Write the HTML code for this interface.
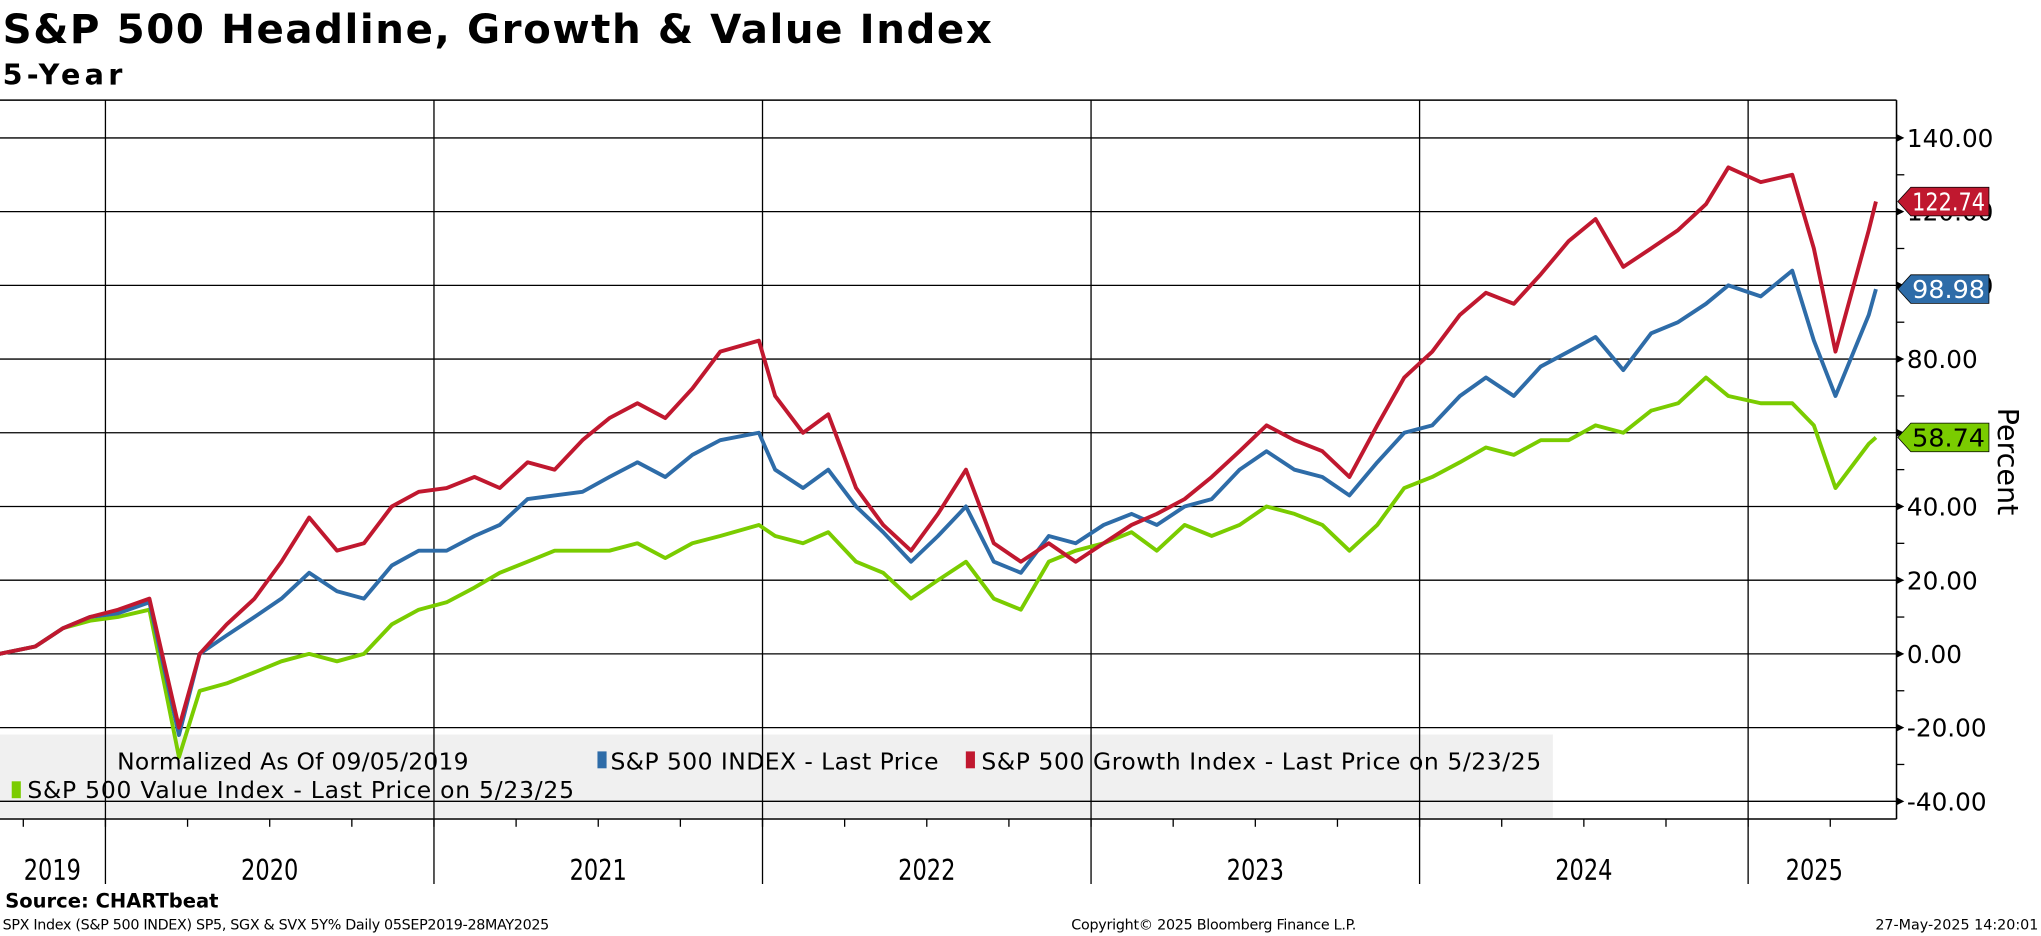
<!DOCTYPE html>
<html><head><meta charset="utf-8"><style>
html,body{margin:0;padding:0;background:#fff;}
svg{display:block;font-family:"DejaVu Sans","Liberation Sans",sans-serif;}
</style></head><body>
<svg id="chart" width="2041" height="936" viewBox="0 0 1568 720" preserveAspectRatio="none">
<text x="2" y="33" font-size="31" font-weight="bold" textLength="760">S&amp;P 500 Headline, Growth &amp; Value Index</text>
<text x="2" y="65" font-size="22" font-weight="bold" textLength="92">5-Year</text>
<rect x="0" y="565" width="1193" height="64" fill="#f0f0f0"/>
<g id="grid"></g>
<g id="series"></g>
<g id="axes"></g>
<text x="90" y="592" font-size="18" textLength="270">Normalized As Of 09/05/2019</text>
<rect x="459" y="578" width="7" height="13" fill="#2e6ca8"/>
<text x="469" y="592" font-size="18" textLength="252">S&amp;P 500 INDEX - Last Price</text>
<rect x="742" y="578" width="7" height="13" fill="#c0182f"/>
<text x="754" y="592" font-size="18" textLength="430">S&amp;P 500 Growth Index - Last Price on 5/23/25</text>
<rect x="9" y="601" width="7" height="13" fill="#7acc00"/>
<text x="21" y="614" font-size="18" textLength="420">S&amp;P 500 Value Index - Last Price on 5/23/25</text>
<text x="1535" y="355" font-size="22" transform="rotate(90 1535 355)" text-anchor="middle">Percent</text>
<text x="4" y="698" font-size="15" font-weight="bold">Source: CHARTbeat</text>
<text x="2" y="715" font-size="11" textLength="420">SPX Index (S&amp;P 500 INDEX) SP5, SGX &amp; SVX 5Y%  Daily 05SEP2019-28MAY2025</text>
<text x="823" y="715" font-size="11" textLength="219">Copyright© 2025 Bloomberg Finance L.P.</text>
<text x="1566" y="715" font-size="11" text-anchor="end">27-May-2025 14:20:01</text>
</svg>
<script>
const yTicks=[140,120,100,80,60,40,20,0,-20,-40];
const yearLabels=["2019","2020","2021","2022","2023","2024","2025"];
const yearBoundaries=[2020,2021,2022,2023,2024,2025];
const months=["2019-09-05","2019-10-15","2019-11-15","2019-12-15",
"2020-01-15","2020-02-19","2020-03-23","2020-04-15","2020-05-15","2020-06-15","2020-07-15","2020-08-15","2020-09-15","2020-10-15","2020-11-15","2020-12-15",
"2021-01-15","2021-02-15","2021-03-15","2021-04-15","2021-05-15","2021-06-15","2021-07-15","2021-08-15","2021-09-15","2021-10-15","2021-11-15","2021-12-28",
"2022-01-15","2022-02-15","2022-03-15","2022-04-15","2022-05-15","2022-06-15","2022-07-15","2022-08-15","2022-09-15","2022-10-15","2022-11-15","2022-12-15",
"2023-01-15","2023-02-15","2023-03-15","2023-04-15","2023-05-15","2023-06-15","2023-07-15","2023-08-15","2023-09-15","2023-10-15","2023-11-15","2023-12-15",
"2024-01-15","2024-02-15","2024-03-15","2024-04-15","2024-05-15","2024-06-15","2024-07-15","2024-08-15","2024-09-15","2024-10-15","2024-11-15","2024-12-10",
"2025-01-15","2025-02-19","2025-03-15","2025-04-08","2025-05-15","2025-05-23"];
const spx=[0,2,7,10, 11,14,-22,0,5,10,15,22,17,15,24,28, 28,32,35,42,43,44,48,52,48,54,58,60, 50,45,50,40,33,25,32,40,25,22,32,30, 35,38,35,40,42,50,55,50,48,43,52,60, 62,70,75,70,78,82,86,77,87,90,95,100, 97,104,85,70,92,98.98];
const growth=[0,2,7,10, 12,15,-20,0,8,15,25,37,28,30,40,44, 45,48,45,52,50,58,64,68,64,72,82,85, 70,60,65,45,35,28,38,50,30,25,30,25, 30,35,38,42,48,55,62,58,55,48,62,75, 82,92,98,95,103,112,118,105,110,115,122,132, 128,130,110,82,115,122.74];
const valueIdx=[0,2,7,9, 10,12,-28,-10,-8,-5,-2,0,-2,0,8,12, 14,18,22,25,28,28,28,30,26,30,32,35, 32,30,33,25,22,15,20,25,15,12,25,28, 30,33,28,35,32,35,40,38,35,28,35,45, 48,52,56,54,58,58,62,60,66,68,75,70, 68,68,62,45,57,58.74];
const lastValues=[122.74,98.98,58.74];

const NS="http://www.w3.org/2000/svg";
function frac(s){const d=new Date(s+"T00:00:00Z");const y=d.getUTCFullYear();const a=Date.UTC(y,0,1),b=Date.UTC(y+1,0,1);return y+(d-a)/(b-a);}
const x0=frac("2019-09-05");
function X(t){return 81+(t-2020)*252.4;}
function Y(v){return 503-v*2.835;}
function mk(tag,attrs,parent){const e=document.createElementNS(NS,tag);for(const k in attrs)e.setAttribute(k,attrs[k]);parent.appendChild(e);return e;}
const grid=document.getElementById("grid"),axes=document.getElementById("axes"),ser=document.getElementById("series");
let e=mk("line",{x1:0,y1:77,x2:1457,y2:77,stroke:"#000","stroke-width":1.2},grid);


e=mk("line",{x1:0,y1:630,x2:1457,y2:630,stroke:"#000","stroke-width":1.2},grid);


e=mk("line",{x1:1457,y1:77,x2:1457,y2:630,stroke:"#000","stroke-width":1.2},grid);


yTicks.forEach(v=>{
  let l=mk("line",{x1:0,y1:Y(v),x2:1457,y2:Y(v),stroke:"#000","stroke-width":1},grid);
  
  
  let p=mk("path",{d:`M1457 ${Y(v)-3}L1463 ${Y(v)}L1457 ${Y(v)+3}Z`,fill:"#000"},axes);
  
  
  let t=mk("text",{x:1465,y:Y(v)+7,"font-size":19},axes);
  t.textContent=v.toFixed(2);
  
  
});
for(let v=-30;v<=150;v+=20){if(Y(v)<80)continue;let l=mk("line",{x1:1457,y1:Y(v),x2:1463,y2:Y(v),stroke:"#000"},axes);
  
  }
yearBoundaries.forEach(yr=>{
  let l=mk("line",{x1:X(yr),y1:77,x2:X(yr),y2:680,stroke:"#000","stroke-width":1},grid);
  
  
});
for(let q=2019.75;q<2025.5;q+=0.25){let l=mk("line",{x1:X(q),y1:630,x2:X(q),y2:636,stroke:"#000"},axes);
  
  }
yearLabels.forEach((lab,i)=>{
  const yr=+lab;let a=Math.max(x0,yr),b=Math.min(frac("2025-05-28"),yr+1);
  let t=mk("text",{x:(X(a)+X(b))/2,y:677,"font-size":22,"text-anchor":"middle",textLength:44,lengthAdjust:"spacingAndGlyphs"},axes);
  t.textContent=lab;
  
  
});
function line(vals,color,name){
  const d=vals.map((v,i)=>(i?"L":"M")+X(frac(months[i])).toFixed(1)+" "+Y(v).toFixed(1)).join("");
  let p=mk("path",{d:d,fill:"none",stroke:color,"stroke-width":3,"stroke-linejoin":"round"},ser);
  
  
}
line(valueIdx,"#7acc00","value-index-line");
line(spx,"#2e6ca8","spx-line");
line(growth,"#c0182f","growth-index-line");
const tagCols=["#c0182f","#2e6ca8","#7acc00"],tagTxt=["#fff","#fff","#000"],tagNames=["growth-last-value-tag","spx-last-value-tag","value-last-value-tag"];
lastValues.forEach((v,i)=>{
  const y=Y(v);
  let p=mk("path",{d:`M1458 ${y}L1468 ${y-11}L1528 ${y-11}L1528 ${y+11}L1468 ${y+11}Z`,fill:tagCols[i],stroke:"#000","stroke-width":0.6},axes);
  
  
  let t=mk("text",{x:1469,y:y+7,"font-size":19,fill:tagTxt[i],textLength:56,lengthAdjust:"spacingAndGlyphs"},axes);
  t.textContent=v.toFixed(2);
  
  
});
</script>
</body></html>
